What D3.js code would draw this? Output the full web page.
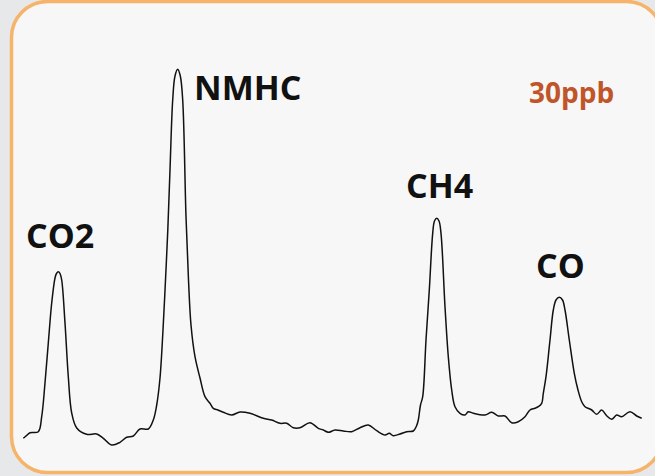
<!DOCTYPE html>
<html>
<head>
<meta charset="utf-8">
<script src="https://cdn.jsdelivr.net/npm/d3@7"></script>
<style>
  html, body { margin: 0; padding: 0; background: #e7e8e9; }
  svg { display: block; }
</style>
</head>
<body>
<svg id="chart" width="655" height="476"></svg>
<script>
// Retention time (arbitrary units) and detector signal (arbitrary units)
const time = [0.3,3,7,15.3,18.7,22,25.3,28.7,32,33.5,35.3,37,38.7,42,45.3,48.7,53.7,63.7,73.7,80.3,88.7,97,103.7,110.3,117,125.3,130.3,133.7,137,140,142.5,144.8,147,149.7,152,154.7,157.3,159.7,163,165.5,168,172,177,182,187,190.3,195,200.3,208.7,217,227,240.3,248.7,257,263.7,270.3,277,287,295.3,300.3,305.3,312,320.3,328.7,337,345.3,353.7,362,366.3,370.3,377,383.7,390.3,393.5,395.3,397.5,399.7,403,406.3,409.7,411.5,413.7,416,418,422,425.3,428.7,432,437,442,445.3,450.3,462,468.7,475.3,482,488.7,495.3,502,507,512,515.3,518.7,520.3,523,527,530.3,533,536.3,539.5,542,546.3,551.3,555,558.7,562,568.7,573.7,578.7,583.7,588.7,593.7,598.7,607,613.7,618.7];
const signal = [6.7,9,12.3,13.3,28.3,62,102,142,167,171.5,173.3,171.5,165,122,68.3,32,17,10.7,11,6.7,0,2.7,7.7,9,16,16,25,40,67,115,165,215,275,345,369,375.7,369,345,228.3,165,120,88.3,67,48.3,41.7,36.7,35,32.7,30,33,31.7,26.7,25,21.7,21.7,17.3,17.3,22.3,16.7,15,12.7,15,14,13.3,17.3,20,14.3,10,11.7,9.3,11,13.3,14,19,25,40,48.3,105,155,211.7,224,226.7,224,211.7,138.3,88.3,55,38.3,31.7,30,33.3,31.7,30,32.7,29,29,22.3,23.3,28.3,35,36.7,38.3,41.7,51.7,68.3,105,135,145,147.7,145,135,105,71.7,55,43.3,38.3,35,30.7,35,29.3,25.7,30,28.3,33.3,29,26.7];

const labels = ["CO2", "NMHC", "CH4", "CO"];
const labelTime = [3, 171, 383, 513];
const labelSignal = [197, 345, 247, 167];
const noteText = "30ppb";

const svg = d3.select("#chart");

// frame
svg.append("rect")
  .attr("x", 11.5).attr("y", 1.5)
  .attr("width", 651).attr("height", 471)
  .attr("rx", 36).attr("ry", 36)
  .attr("fill", "#f7f7f7")
  .attr("stroke", "#f6b46a")
  .attr("stroke-width", 3.5);

const x = d3.scaleLinear().domain([0, 620]).range([23, 643]);
const y = d3.scaleLinear().domain([0, 400]).range([445, 45]);

const pts = time.map((t, i) => [t, signal[i]]);
const line = d3.line()
  .x(d => x(d[0]))
  .y(d => y(d[1]))
  .curve(d3.curveCatmullRom.alpha(0.5));

svg.append("path")
  .attr("d", line(pts))
  .attr("fill", "none")
  .attr("stroke", "#111")
  .attr("stroke-width", 1.5)
  .attr("stroke-linejoin", "round");

svg.selectAll("text.lbl")
  .data(labels)
  .join("text")
  .attr("class", "lbl")
  .attr("x", (d, i) => x(labelTime[i]))
  .attr("y", (d, i) => y(labelSignal[i]))
  .attr("font-family", "'Open Sans', sans-serif")
  .attr("font-weight", 700)
  .attr("font-size", 34)
  .attr("fill", "#111")
  .text(d => d);

svg.append("text")
  .attr("x", 529).attr("y", 103)
  .attr("font-family", "'Open Sans', sans-serif")
  .attr("font-weight", 700)
  .attr("font-size", 28)
  .attr("fill", "#c0552a")
  .text(noteText);
</script>
</body>
</html>
